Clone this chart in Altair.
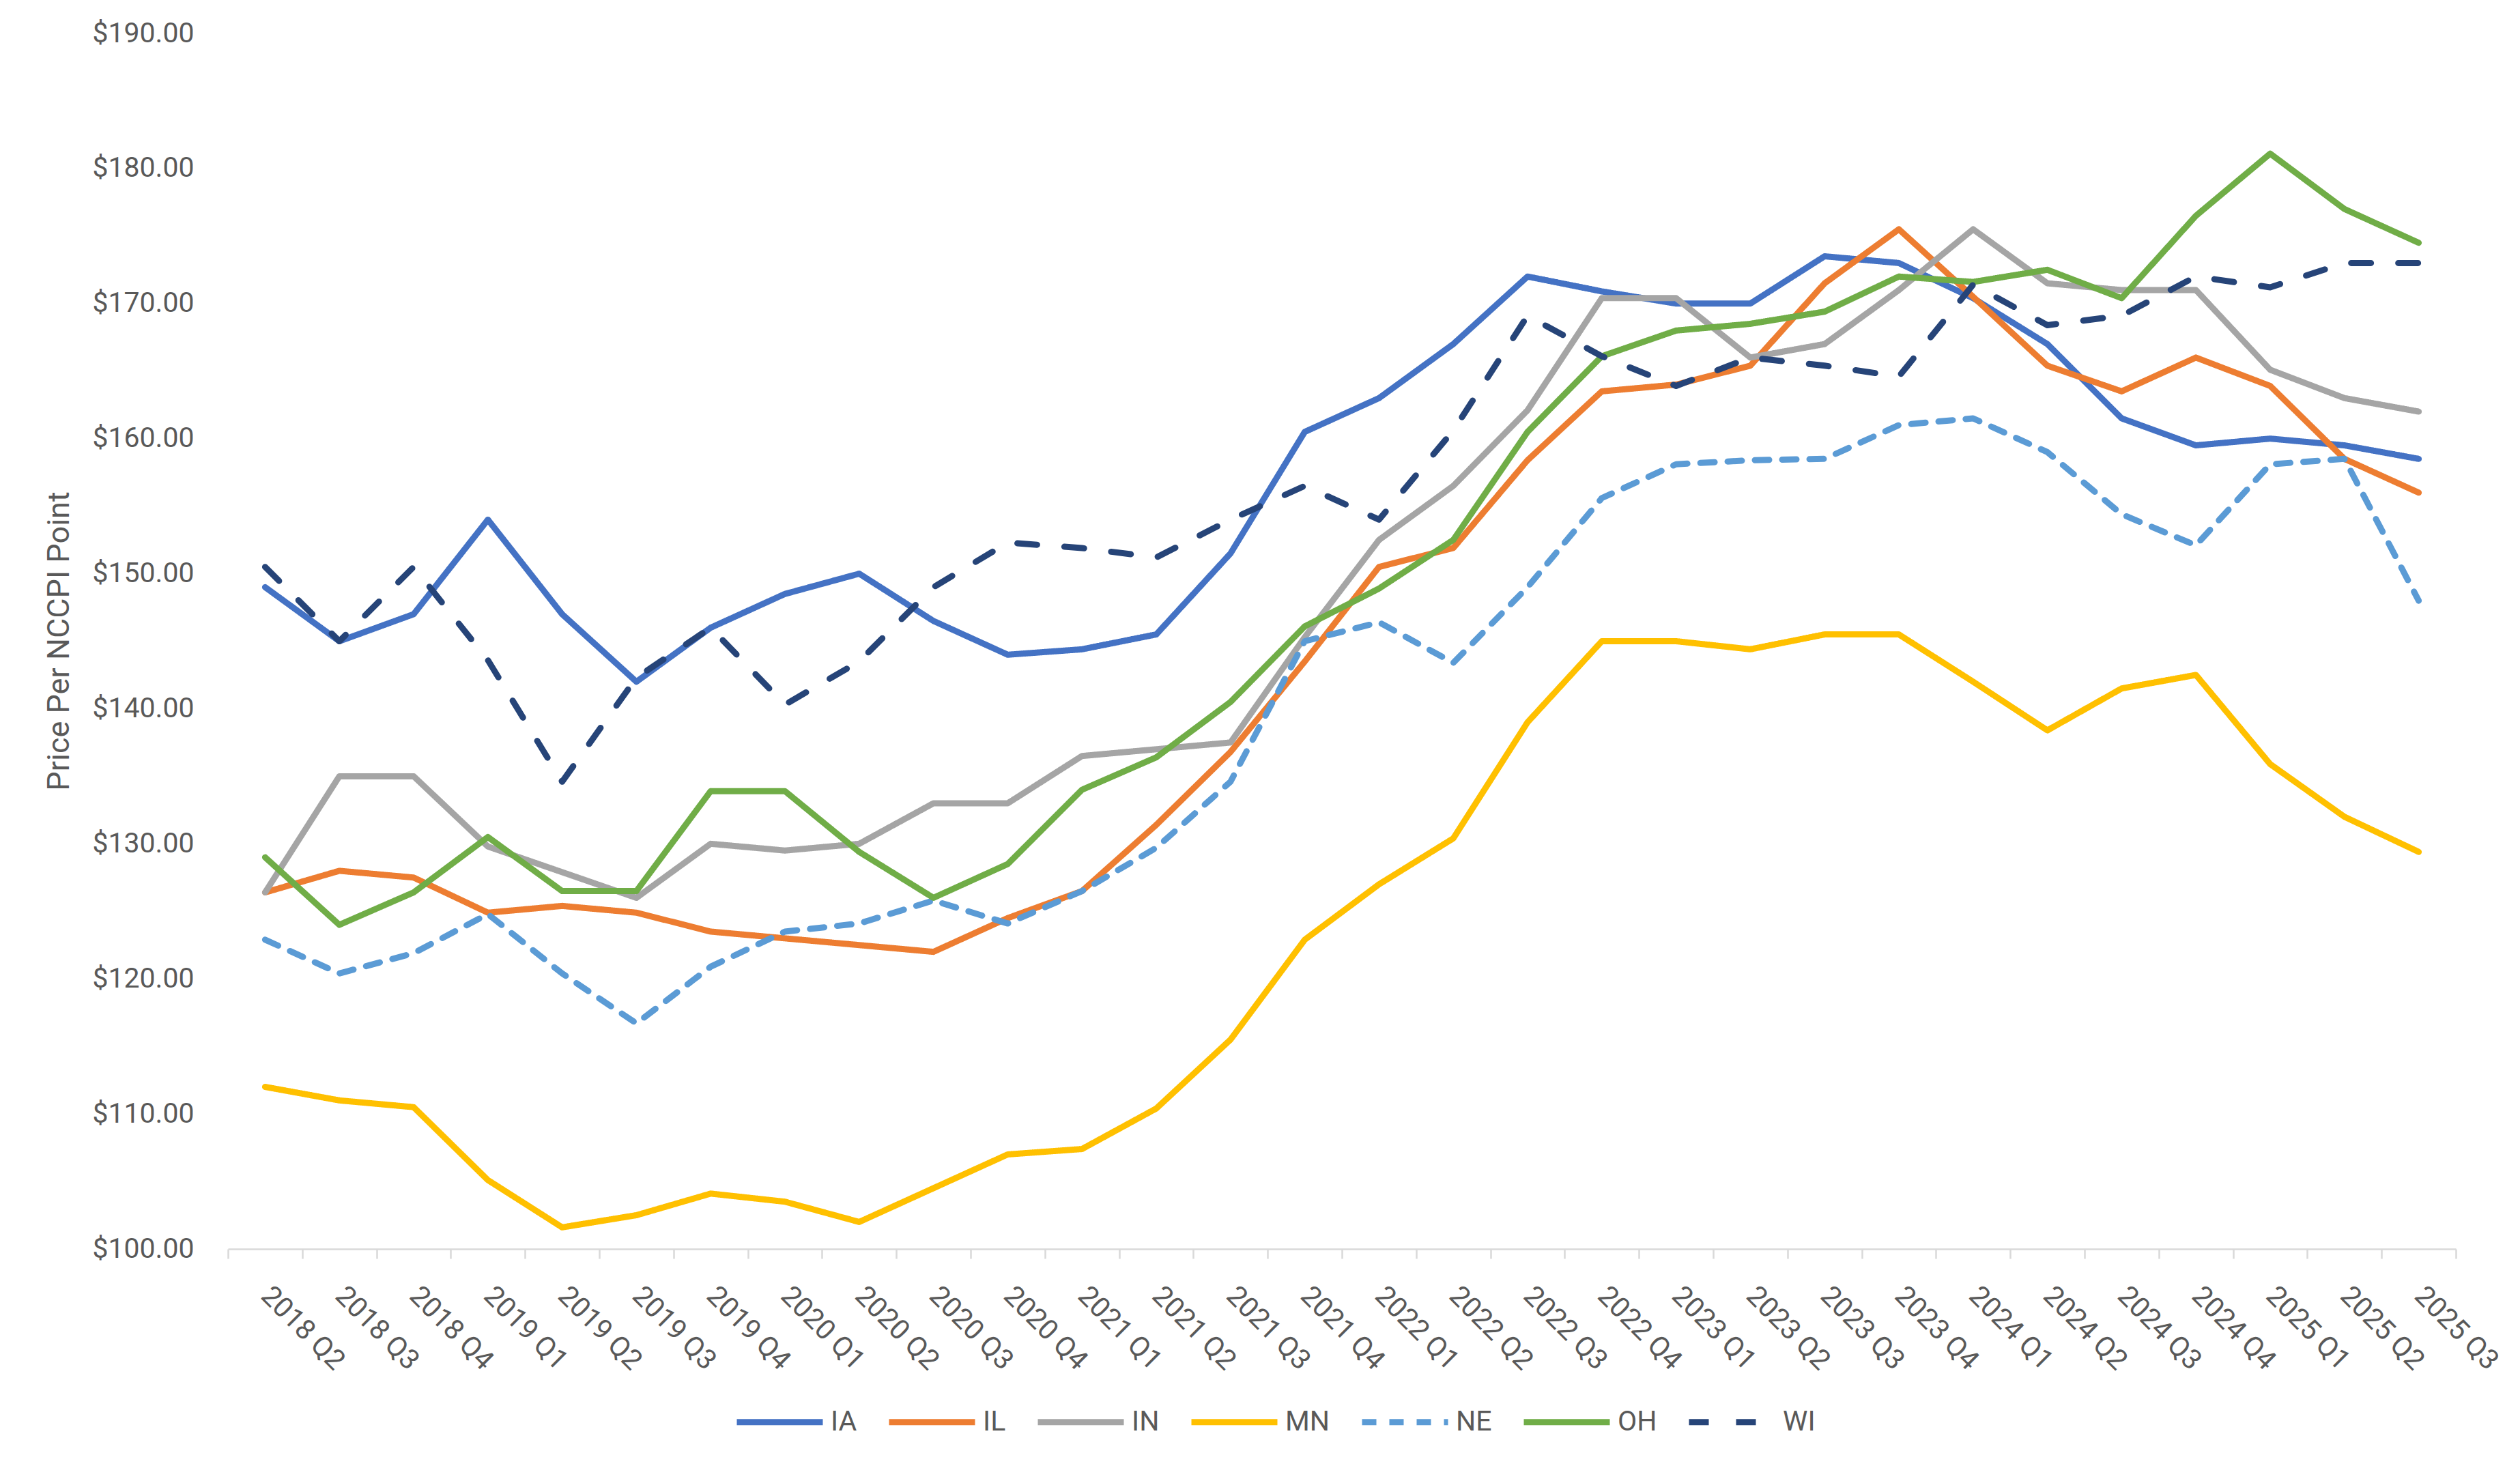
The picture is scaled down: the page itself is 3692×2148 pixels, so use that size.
import altair as alt
import pandas as pd

quarters = ["2018 Q2", "2018 Q3", "2018 Q4",
            "2019 Q1", "2019 Q2", "2019 Q3", "2019 Q4",
            "2020 Q1", "2020 Q2", "2020 Q3", "2020 Q4",
            "2021 Q1", "2021 Q2", "2021 Q3", "2021 Q4",
            "2022 Q1", "2022 Q2", "2022 Q3", "2022 Q4",
            "2023 Q1", "2023 Q2", "2023 Q3", "2023 Q4",
            "2024 Q1", "2024 Q2", "2024 Q3", "2024 Q4",
            "2025 Q1", "2025 Q2", "2025 Q3"]

IA = [149.0, 145.0, 147.0, 154.0, 147.0, 142.0, 146.0, 148.5, 150.0, 146.5,
      144.0, 144.4, 145.5, 151.5, 160.5, 163.0, 167.0, 172.0, 170.9, 170.0,
      170.0, 173.5, 173.0, 170.4, 167.0, 161.5, 159.5, 160.0, 159.5, 158.5]
IL = [126.4, 128.0, 127.5, 124.9, 125.4, 124.9, 123.5, 123.0, 122.5, 122.0,
      124.5, 126.5, 131.4, 136.8, 143.5, 150.5, 151.9, 158.4, 163.5, 164.0,
      165.4, 171.5, 175.5, 170.5, 165.4, 163.5, 166.0, 163.9, 158.5, 156.0]
IN = [126.4, 135.0, 135.0, 129.8, 127.9, 126.0, 130.0, 129.5, 130.0, 133.0,
      133.0, 136.5, 137.0, 137.5, 145.3, 152.5, 156.5, 162.1, 170.4, 170.4,
      166.0, 167.0, 171.0, 175.5, 171.5, 171.0, 171.0, 165.1, 163.0, 162.0]
MN = [112.0, 111.0, 110.5, 105.1, 101.6, 102.5, 104.1, 103.5, 102.0, 104.5,
      107.0, 107.4, 110.4, 115.5, 122.9, 127.0, 130.4, 139.0, 145.0, 145.0,
      144.4, 145.5, 145.5, 142.0, 138.4, 141.5, 142.5, 135.9, 132.0, 129.4]
NE = [122.9, 120.4, 121.9, 124.8, 120.4, 116.7, 120.9, 123.5, 124.1, 125.8,
      124.1, 126.5, 129.7, 134.6, 145.0, 146.4, 143.4, 149.0, 155.6, 158.1,
      158.4, 158.5, 161.0, 161.5, 159.0, 154.4, 152.1, 158.1, 158.5, 148.0]
OH = [129.0, 124.0, 126.4, 130.5, 126.5, 126.5, 133.9, 133.9, 129.4, 126.0,
      128.5, 134.0, 136.4, 140.5, 146.1, 148.9, 152.5, 160.5, 166.1, 168.0,
      168.5, 169.4, 172.0, 171.6, 172.5, 170.4, 176.5, 181.1, 177.0, 174.5]
WI = [150.5, 145.0, 150.5, 143.6, 134.6, 142.3, 146.0, 140.3, 143.5, 149.0,
      152.3, 151.9, 151.2, 154.0, 156.5, 154.0, 160.6, 169.1, 166.1, 163.9,
      166.0, 165.4, 164.6, 171.4, 168.4, 169.1, 172.0, 171.2, 173.0, 173.0]

states = ["IA", "IL", "IN", "MN", "NE", "OH", "WI"]
series = [IA, IL, IN, MN, NE, OH, WI]
colors = ["#4472C4", "#ED7D31", "#A5A5A5", "#FFC000", "#5B9BD5", "#70AD47", "#264478"]
dashes = [[1, 0], [1, 0], [1, 0], [1, 0], [21, 19], [1, 0], [29, 40]]
y_ticks = [100, 110, 120, 130, 140, 150, 160, 170, 180, 190]

rows = []
for s, vals in zip(states, series):
    for q, v in zip(quarters, vals):
        rows.append({"quarter": q, "state": s, "price": v})
df = pd.DataFrame(rows)

FONT = "Roboto"
TXT = "#595959"


def make_legend():
    return alt.Legend(title=None, orient="none", direction="horizontal",
                      legendX=741, legendY=1967, symbolType="stroke",
                      symbolSize=15876, symbolStrokeWidth=9,
                      labelFontSize=41, labelColor=TXT, labelFont=FONT,
                      labelOffset=7, columnPadding=28)


chart = alt.Chart(df).mark_line(strokeWidth=9, strokeCap="round", strokeJoin="round").encode(
    x=alt.X("quarter:O", sort=quarters,
            scale=alt.Scale(type="band", paddingInner=0, paddingOuter=0),
            axis=alt.Axis(title=None, labelAngle=45, labelAlign="left", labelBaseline="middle",
                          labelPadding=48, tickSize=14, tickBand="extent", labelOverlap=False,
                          domainColor="#D9D9D9", tickColor="#D9D9D9", domainWidth=2.5, tickWidth=2.5,
                          labelFontSize=41, labelColor=TXT, labelFont=FONT, grid=False)),
    y=alt.Y("price:Q", scale=alt.Scale(domain=[100, 190], nice=False, zero=False),
            axis=alt.Axis(title="Price Per NCCPI Point", values=y_ticks, format="$.2f",
                          domain=False, ticks=False, tickSize=0, grid=False, labelPadding=50,
                          labelFontSize=41, labelColor=TXT, labelFont=FONT,
                          titleFontSize=45, titleFont=FONT, titleColor=TXT, titleFontWeight="normal",
                          titleX=-248, titleY=890, titleAlign="center", titleBaseline="middle")),
    color=alt.Color("state:N", sort=states, scale=alt.Scale(domain=states, range=colors),
                    legend=make_legend()),
    strokeDash=alt.StrokeDash("state:N", sort=states, scale=alt.Scale(domain=states, range=dashes),
                              legend=make_legend()),
    order=alt.Order("state:N"),
).properties(
    width=3264, height=1781,
    autosize=alt.AutoSizeParams(type="none"),
    padding={"left": 326, "top": 41, "right": 86, "bottom": 310},
).configure(font=FONT).configure_view(stroke=None)

chart.save("out.html", embed_options={"renderer": "svg", "actions": False})
